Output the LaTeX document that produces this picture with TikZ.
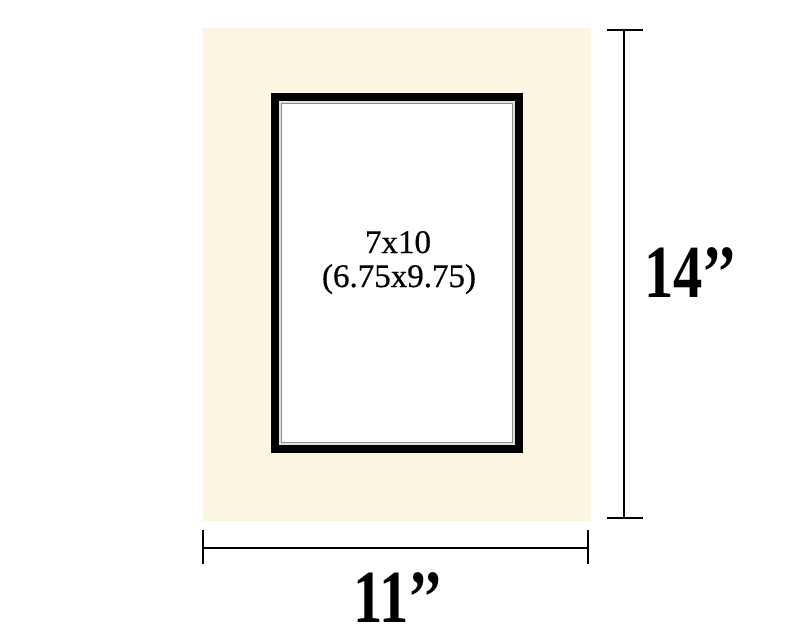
\documentclass[tikz,border=0pt]{standalone}
\usepackage{fontspec}
\setmainfont{Liberation Serif}
\begin{document}
\begin{tikzpicture}[x=1pt,y=-1pt,
  dimline/.style={line width=2pt,black},
  bigdim/.style={font=\fontsize{75}{75}\selectfont\bfseries,inner sep=0pt},
  centertext/.style={font=\fontsize{33}{36}\selectfont\addfontfeature{FakeBold=0.6},inner sep=0pt}]
\definecolor{cream}{RGB}{251,245,226}
\useasboundingbox (0,0) rectangle (794,635);
\fill[white] (0,0) rectangle (794,635);
% mat
\node[fill=cream,draw=none,minimum width=388pt,minimum height=493pt,inner sep=0pt,anchor=north west] (mat) at (203,28) {};
% black frame
\node[fill=black,draw=none,minimum width=252pt,minimum height=360pt,inner sep=0pt,anchor=north west] (frame) at (271,93) {};
\node[fill=black!12,draw=none,minimum width=236pt,minimum height=344pt,inner sep=0pt] (bevel) at (frame.center) {};
\node[draw=black!45,line width=1.2pt,fill=white,minimum width=231pt,minimum height=339pt,inner sep=0pt] (opening) at (frame.center) {};
\node[fill=white,draw=none,minimum width=226pt,minimum height=334pt,inner sep=0pt] (inner) at (frame.center) {};
\node[centertext,anchor=base] (lblA) at (398,253) {7x10};
\node[centertext,anchor=base] (lblB) at (399,287) {(6.75x9.75)};
% horizontal dimension
\coordinate (hl) at (203,548);
\coordinate (hr) at (588,548);
\draw[dimline] (hl) -- (hr);
\draw[dimline] ([yshift=-16pt]hl) -- ([yshift=18pt]hl);
\draw[dimline] ([yshift=-16pt]hr) -- ([yshift=18pt]hr);
\node[bigdim,anchor=base] (w) at (398,622) {\scalebox{0.78}[1]{11’’}};
% vertical dimension
\coordinate (vt) at (624,30);
\coordinate (vb) at (624,518);
\draw[dimline] (vt) -- (vb);
\draw[dimline] ([xshift=-17pt]vt) -- ([xshift=19pt]vt);
\draw[dimline] ([xshift=-17pt]vb) -- ([xshift=19pt]vb);
\node[bigdim,anchor=base west] (h) at (644,297) {\scalebox{0.78}[1]{14’’}};
\end{tikzpicture}
\end{document}
